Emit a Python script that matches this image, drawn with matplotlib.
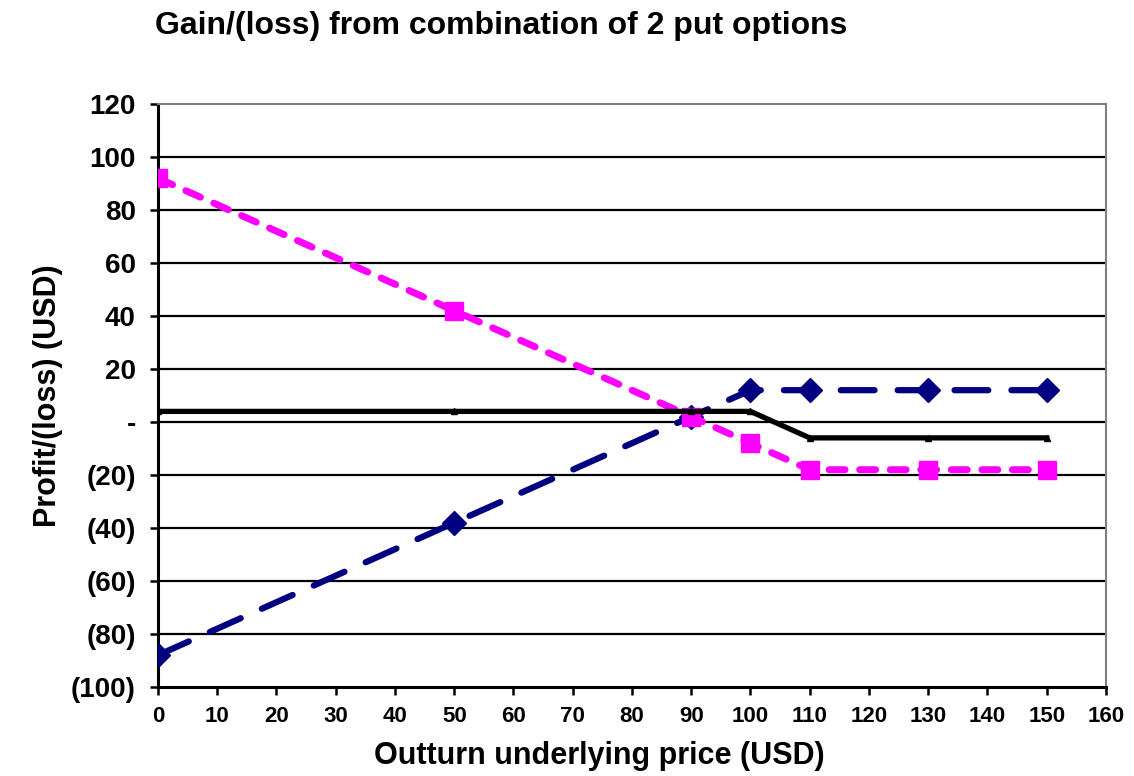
import matplotlib.pyplot as plt
from matplotlib.ticker import FixedLocator

plt.rcParams['font.family'] = ['Liberation Sans', 'DejaVu Sans']

# outturn prices and profit/(loss) of each position
price = [0, 50, 90, 100, 110, 130, 150]
put_a = [-88, -38, 2, 12, 12, 12, 12]
put_b = [92, 42, 2, -8, -18, -18, -18]
combined = [4, 4, 4, 4, -6, -6, -6]

yticks = list(range(-100, 121, 20))
xticks = list(range(0, 161, 10))


def fmt(v):
    if v == 0:
        return '-'
    if v < 0:
        return '(%d)' % -v
    return '%d' % v


fig = plt.figure(figsize=(11.34, 7.76), dpi=100)
ax = fig.add_axes([0.1393, 0.1147, 0.9753 - 0.1393, 0.866 - 0.1147])

ax.plot(price, put_a, color='#000080', lw=4.5, dashes=(5.4, 3.7), dash_capstyle='round',
        marker='D', ms=12, mec='#000080', mfc='#000080', zorder=3)
ax.plot(price, put_b, color='#ff00ff', lw=5, dashes=(2.3, 2.1), dash_capstyle='round',
        marker='s', ms=13, mec='#ff00ff', mfc='#ff00ff', zorder=4)
ax.plot(price, combined, color='black', lw=3.8, marker='^', ms=5, zorder=5)

ax.set_xlim(0, 160)
ax.set_ylim(-100, 120)
ax.xaxis.set_major_locator(FixedLocator(xticks))
ax.yaxis.set_major_locator(FixedLocator(yticks))
ax.set_yticklabels([fmt(v) for v in yticks], fontsize=20, fontweight='bold')
ax.set_xticklabels([str(v) for v in xticks], fontsize=16, fontweight='bold')

for v in yticks[1:-1]:
    ax.axhline(v, color='black', lw=1.6, zorder=1)

ax.tick_params(axis='both', direction='out', length=6, width=1.8, color='black')
ax.tick_params(axis='x', pad=8)
ax.tick_params(axis='y', pad=10)
ax.spines['left'].set_linewidth(2.2)
ax.spines['bottom'].set_linewidth(2.2)
ax.spines['top'].set_color('#808080')
ax.spines['right'].set_color('#808080')
ax.spines['top'].set_linewidth(1.5)
ax.spines['right'].set_linewidth(1.5)

ax.set_xlabel('Outturn underlying price (USD)', fontsize=22, fontweight='bold')
ax.xaxis.set_label_coords(0.466, -0.093)
ax.set_ylabel('Profit/(loss) (USD)', fontsize=22, fontweight='bold', labelpad=6)
fig.text(0.137, 0.967, 'Gain/(loss) from combination of 2 put options',
         fontsize=23, fontweight='bold', va='center', ha='left')

fig.savefig('out.png', dpi=100)
